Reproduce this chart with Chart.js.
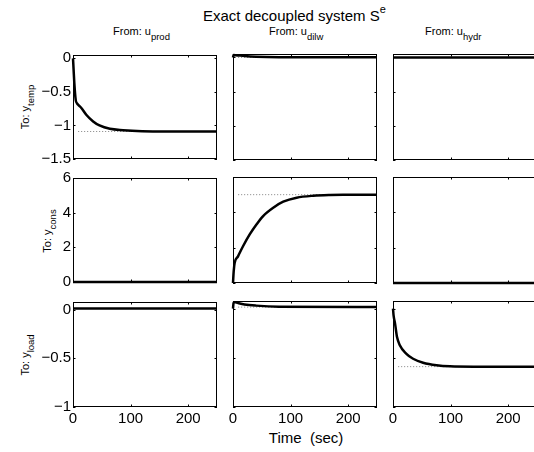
<!DOCTYPE html>
<html>
<head>
<meta charset="utf-8">
<script src="https://cdn.jsdelivr.net/npm/chart.js@4/dist/chart.umd.min.js"></script>
<style>
  html, body { margin: 0; padding: 0; background: #fff; }
  body { width: 534px; height: 452px; position: relative; overflow: hidden; font-family: 'Liberation Sans', Arial, sans-serif; color: #000; }
  .cell { position: absolute; }
  .txt { position: absolute; white-space: pre; line-height: 11px; font-size: 11px; }
  .sub { position: relative; top: 4.5px; font-size: 9.5px; }
  .ylab { position: absolute; white-space: pre; font-size: 11px; line-height: 11px; transform: translate(-50%, -50%) rotate(-90deg); }
  #title { position: absolute; left: 203px; top: 8px; font-size: 15px; line-height: 15px; white-space: pre; }
  #title span { position: relative; top: -8px; font-size: 11px; }
  #xlab { position: absolute; left: 306px; top: 430px; transform: translateX(-50%); font-size: 15px; line-height: 15px; white-space: pre; }
</style>
</head>
<body>
<div id="title">Exact decoupled system S<span>e</span></div>
<div class="txt" style="left:113px;top:26px">From: u<span class="sub">prod</span></div>
<div class="txt" style="left:269px;top:26px">From: u<span class="sub">dilw</span></div>
<div class="txt" style="left:425px;top:26px">From: u<span class="sub">hydr</span></div>
<div class="ylab" style="left:25px;top:107px">To: y<span class="sub">temp</span></div>
<div class="ylab" style="left:47px;top:231px">To: y<span class="sub">cons</span></div>
<div class="ylab" style="left:25px;top:355px">To: y<span class="sub">load</span></div>
<div id="xlab">Time  (sec)</div>

<script>
// axis ticks and ranges
const timeTicks = [0, 100, 200];
const timeRange = [0, 250];
const tempTicks = [0, -0.5, -1, -1.5];
const tempRange = [-1.5, 0.05];
const consTicks = [0, 2, 4, 6];
const consRange = [0, 6];
const loadTicks = [0, -0.5, -1];
const loadRange = [-1, 0.077];

// step responses (time in sec, output value)
const tTempProd = [0, 1, 2.3, 4.7, 7, 10, 14.5, 23, 35, 46, 64, 87, 120, 160, 250];
const yTempProd = [0, -0.16, -0.37, -0.62, -0.67, -0.70, -0.74, -0.84, -0.94, -1.00, -1.05, -1.07, -1.085, -1.09, -1.09];
const ssTempProd = -1.09;

const tTempDilw = [0, 1, 5, 20, 40, 80, 250];
const yTempDilw = [0, 0.035, 0.033, 0.02, 0.01, 0.004, 0.003];
const ssTempDilw = 0;

const tTempHydr = [0, 250];
const yTempHydr = [0, 0];

const tConsProd = [0, 250];
const yConsProd = [0, 0];

const tConsDilw = [0, 1.2, 2.9, 8.7, 17.4, 29, 40.7, 52.3, 69.8, 87.2, 110.5, 139.5, 168.6, 200, 250];
const yConsDilw = [0, 0.66, 1.14, 1.51, 2.08, 2.75, 3.31, 3.79, 4.26, 4.6, 4.83, 4.94, 4.98, 4.99, 5.0];
const ssConsDilw = 5.0;

const tConsHydr = [0, 250];
const yConsHydr = [0, 0];

const tLoadProd = [0, 250];
const yLoadProd = [0.01, 0.01];

const tLoadDilw = [0, 1, 4, 10, 20, 40, 80, 250];
const yLoadDilw = [0, 0.06, 0.065, 0.055, 0.042, 0.03, 0.019, 0.015];
const ssLoadDilw = 0.015;

const tLoadHydr = [0, 1, 3.5, 7, 11.6, 23.3, 34.9, 52.3, 75.6, 98.8, 140, 250];
const yLoadHydr = [0, -0.07, -0.15, -0.29, -0.37, -0.46, -0.51, -0.55, -0.576, -0.587, -0.59, -0.59];
const ssLoadHydr = -0.59;

const ssStart = 9;

// layout of the 3x3 grid
const colLeft = [73, 233, 393];
const rowTop = [54, 177, 301];
const plotW = 144, plotH = 106, pad = 10;

const cells = [
  { r: 0, c: 0, t: tTempProd, y: yTempProd, ss: ssTempProd, ticks: tempTicks, range: tempRange },
  { r: 0, c: 1, t: tTempDilw, y: yTempDilw, ss: ssTempDilw, ticks: tempTicks, range: tempRange },
  { r: 0, c: 2, t: tTempHydr, y: yTempHydr, ss: null, ticks: tempTicks, range: tempRange },
  { r: 1, c: 0, t: tConsProd, y: yConsProd, ss: null, ticks: consTicks, range: consRange },
  { r: 1, c: 1, t: tConsDilw, y: yConsDilw, ss: ssConsDilw, ticks: consTicks, range: consRange },
  { r: 1, c: 2, t: tConsHydr, y: yConsHydr, ss: null, ticks: consTicks, range: consRange },
  { r: 2, c: 0, t: tLoadProd, y: yLoadProd, ss: null, ticks: loadTicks, range: loadRange },
  { r: 2, c: 1, t: tLoadDilw, y: yLoadDilw, ss: ssLoadDilw, ticks: loadTicks, range: loadRange },
  { r: 2, c: 2, t: tLoadHydr, y: yLoadHydr, ss: ssLoadHydr, ticks: loadTicks, range: loadRange }
];

Chart.defaults.font.family = "'Liberation Sans', Arial, sans-serif";
Chart.defaults.color = '#000';

// matlab style box with inward tick marks
const boxPlugin = {
  id: 'box',
  afterDraw(chart, args, opts) {
    const { ctx, chartArea: a, scales: { x, y } } = chart;
    ctx.save();
    ctx.strokeStyle = '#000';
    ctx.lineWidth = 1;
    ctx.strokeRect(a.left + 0.5, a.top + 0.5, a.right - a.left - 1, a.bottom - a.top - 1);
    ctx.beginPath();
    timeTicks.forEach(v => {
      const px = Math.round(x.getPixelForValue(v)) + 0.5;
      ctx.moveTo(px, a.bottom); ctx.lineTo(px, a.bottom - 2.5);
      ctx.moveTo(px, a.top); ctx.lineTo(px, a.top + 2.5);
    });
    opts.yTicks.forEach(v => {
      const py = Math.round(y.getPixelForValue(v)) + 0.5;
      ctx.moveTo(a.left, py); ctx.lineTo(a.left + 2.5, py);
      ctx.moveTo(a.right, py); ctx.lineTo(a.right - 2.5, py);
    });
    ctx.stroke();
    ctx.restore();
  }
};

function fmt(v) {
  return String(v).replace('-', '\u2212');
}

cells.forEach(cell => {
  const showY = cell.c === 0;
  const showX = cell.r === 2;
  const yW = showY ? 45 : 0;
  const xH = showX ? 30 : 0;
  const padL = showY ? 0 : pad;
  const padB = showX ? 0 : pad;
  const w = padL + yW + plotW + pad;
  const h = pad + plotH + xH + padB;

  const div = document.createElement('div');
  div.className = 'cell';
  div.style.left = (colLeft[cell.c] - yW - padL) + 'px';
  div.style.top = (rowTop[cell.r] - pad) + 'px';
  div.style.width = w + 'px';
  div.style.height = h + 'px';
  const canvas = document.createElement('canvas');
  canvas.width = w;
  canvas.height = h;
  div.appendChild(canvas);
  document.body.appendChild(div);

  const datasets = [{
    data: cell.t.map((t, i) => ({ x: t, y: cell.y[i] })),
    borderColor: '#000',
    borderWidth: 2.5,
    pointRadius: 0,
    cubicInterpolationMode: 'monotone',
    clip: false,
    order: 0
  }];
  if (cell.ss !== null) {
    datasets.push({
      data: [{ x: ssStart, y: cell.ss }, { x: timeRange[1], y: cell.ss }],
      borderColor: '#808080',
      borderWidth: 1,
      borderDash: [1, 2],
      pointRadius: 0,
      clip: false,
      order: 1
    });
  }

  new Chart(canvas, {
    type: 'line',
    data: { datasets },
    plugins: [boxPlugin],
    options: {
      responsive: false,
      animation: false,
      devicePixelRatio: 1,
      layout: { padding: { left: padL, top: pad, right: pad, bottom: padB } },
      plugins: { legend: { display: false }, tooltip: { enabled: false }, box: { yTicks: cell.ticks } },
      scales: {
        x: {
          type: 'linear',
          min: timeRange[0],
          max: timeRange[1],
          display: showX,
          grid: { display: false, drawTicks: false },
          border: { display: false },
          afterBuildTicks: s => { s.ticks = timeTicks.map(v => ({ value: v })); },
          afterFit: s => { s.height = xH; },
          ticks: { font: { size: 15 }, padding: 3, maxRotation: 0, callback: v => fmt(v) }
        },
        y: {
          type: 'linear',
          min: cell.range[0],
          max: cell.range[1],
          display: showY,
          grid: { display: false, drawTicks: false },
          border: { display: false },
          afterBuildTicks: s => { s.ticks = cell.ticks.map(v => ({ value: v })); },
          afterFit: s => { s.width = yW; },
          ticks: { font: { size: 15 }, padding: 2, callback: v => fmt(v) }
        }
      }
    }
  });
});
</script>
</body>
</html>
